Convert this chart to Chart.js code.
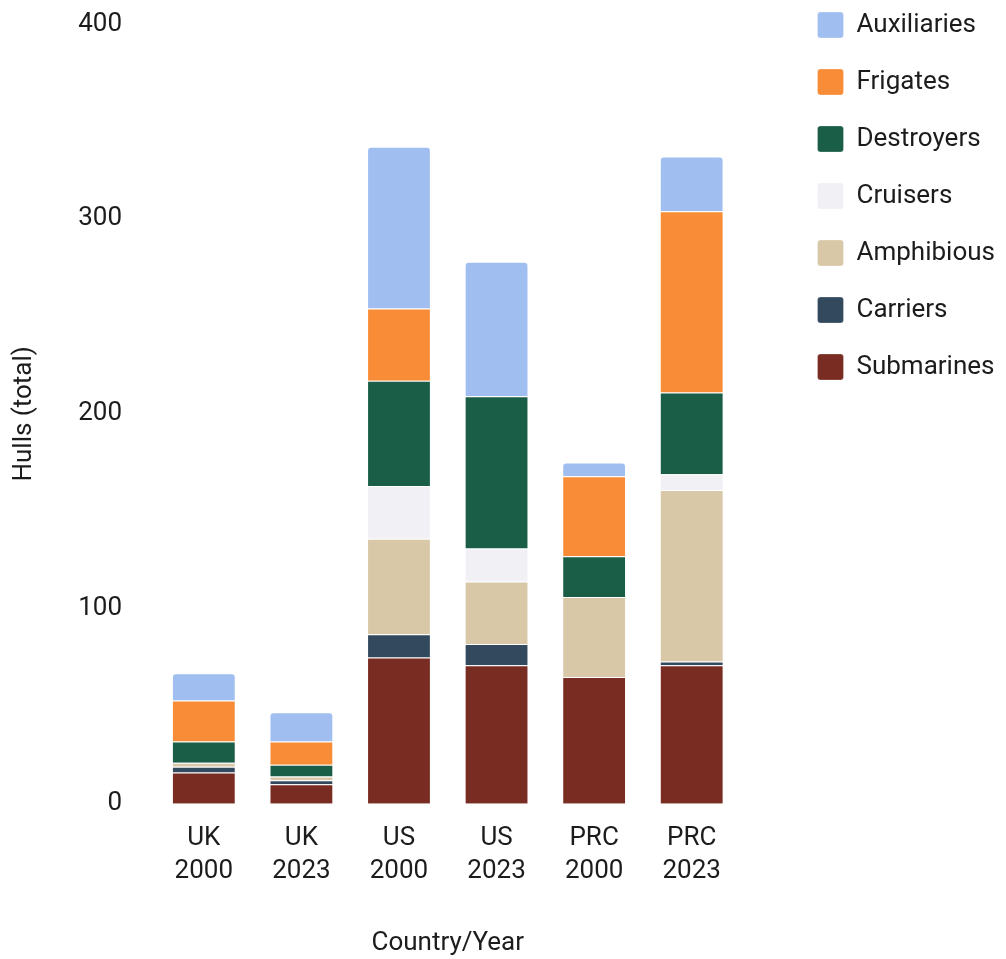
<!DOCTYPE html>
<html lang="en">
<head>
    <meta charset="UTF-8">
    <title>Fleet Composition</title>
    <script src="https://cdn.jsdelivr.net/npm/chart.js"></script>
    <style>
        html, body { margin: 0; padding: 0; background: #fff; }
        .chart-box { width: 1006px; height: 959px; }
    </style>
</head>
<body>
    <div class="chart-box">
        <canvas id="fleetChart"></canvas>
    </div>
    <script>
        // hull counts per country/year, bottom of the stack first
        const countries = ['UK', 'UK', 'US', 'US', 'PRC', 'PRC'];
        const years = ['2000', '2023', '2000', '2023', '2000', '2023'];

        const submarines = [16, 10, 75, 71, 65, 71];
        const carriers = [3, 2, 12, 11, 0, 2];
        const amphibious = [2, 2, 49, 32, 41, 88];
        const cruisers = [0, 0, 27, 17, 0, 8];
        const destroyers = [11, 6, 54, 78, 21, 42];
        const frigates = [21, 12, 37, 0, 41, 93];
        const auxiliaries = [14, 15, 83, 69, 7, 28];

        const yTicks = [0, 100, 200, 300, 400];

        const labels = countries.map((c, i) => [c, years[i]]);
        const textColor = '#1c1c1c';

        function series(label, data, color) {
            return {
                label: label,
                data: data,
                backgroundColor: color,
                borderColor: 'rgba(255,255,255,0.25)',
                borderWidth: 1
            };
        }

        const datasets = [
            series('Submarines', submarines, '#782c22'),
            series('Carriers', carriers, '#334a5e'),
            series('Amphibious', amphibious, '#d8c8a8'),
            series('Cruisers', cruisers, '#f0f0f5'),
            series('Destroyers', destroyers, '#1a5e47'),
            series('Frigates', frigates, '#f98d37'),
            series('Auxiliaries', auxiliaries, '#a0bff0')
        ];
        datasets[6].borderRadius = { topLeft: 4, topRight: 4 };

        // legend sits right of the plot, first row level with the top tick
        const legendShift = {
            id: 'legendShift',
            afterLayout(chart) {
                const lg = chart.legend;
                lg.left = chart.chartArea.right + 46;
                lg.right = lg.left + lg.width;
                lg.top = -19;
            }
        };

        const ctx = document.getElementById('fleetChart').getContext('2d');
        new Chart(ctx, {
            type: 'bar',
            data: { labels: labels, datasets: datasets },
            plugins: [legendShift],
            options: {
                responsive: true,
                maintainAspectRatio: false,
                animation: false,
                barPercentage: 0.654,
                categoryPercentage: 1,
                layout: { padding: { top: 24, right: 47, bottom: 0, left: 0 } },
                font: { family: 'Roboto' },
                plugins: {
                    tooltip: { enabled: false },
                    legend: {
                        position: 'right',
                        align: 'start',
                        reverse: true,
                        labels: {
                            color: textColor,
                            font: { family: 'Roboto', size: 26 },
                            boxWidth: 26,
                            boxHeight: 26,
                            padding: 31,
                            useBorderRadius: true,
                            borderRadius: 3
                        }
                    }
                },
                scales: {
                    x: {
                        stacked: true,
                        grid: { display: false, drawTicks: false },
                        border: { display: false },
                        ticks: {
                            color: textColor,
                            padding: 18,
                            maxRotation: 0,
                            font: { family: 'Roboto', size: 26, lineHeight: 1.27 }
                        },
                        title: {
                            display: true,
                            text: 'Country/Year',
                            color: textColor,
                            font: { family: 'Roboto', size: 26 },
                            padding: { top: 22, bottom: 0 }
                        }
                    },
                    y: {
                        stacked: true,
                        min: yTicks[0],
                        max: yTicks[yTicks.length - 1],
                        grid: { display: false, drawTicks: false },
                        border: { display: false },
                        afterBuildTicks(scale) {
                            scale.ticks = yTicks.map(v => ({ value: v }));
                        },
                        // the wide label gap shouldn't push the plot down from the top
                        afterFit(scale) {
                            scale.paddingTop = 0;
                            scale.paddingBottom = 0;
                        },
                        ticks: {
                            color: textColor,
                            padding: 33,
                            font: { family: 'Roboto', size: 26 }
                        },
                        title: {
                            display: true,
                            text: 'Hulls (total)',
                            color: textColor,
                            font: { family: 'Roboto', size: 26 },
                            padding: { top: 9, bottom: 5 }
                        }
                    }
                }
            }
        });
    </script>
</body>
</html>
